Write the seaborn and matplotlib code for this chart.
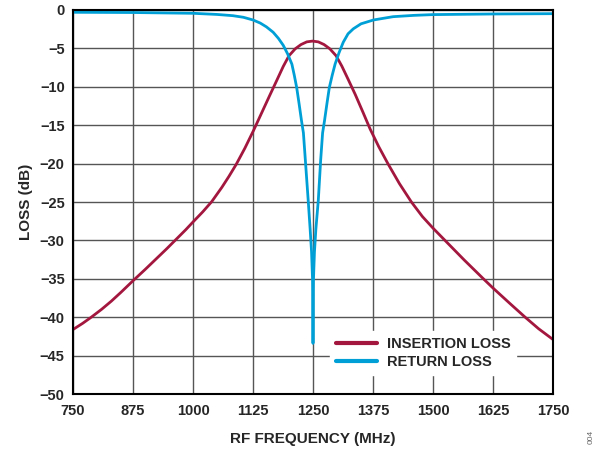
import numpy as np
import pandas as pd
import seaborn as sns
import matplotlib.pyplot as plt

# values
il_freq = [750, 770, 788, 810, 830, 850, 875, 900, 925, 945, 965, 985, 1000, 1020, 1039,
           1060, 1075, 1090, 1108, 1126, 1143, 1160, 1175, 1188, 1200, 1213, 1225, 1237,
           1249, 1261, 1273, 1285, 1298, 1310, 1323, 1338, 1354, 1369, 1387, 1406, 1430,
           1455, 1478, 1500, 1525, 1565, 1605, 1625, 1660, 1692, 1720, 1750]
il_loss = [-41.6, -40.8, -40.0, -38.95, -37.9, -36.75, -35.25, -33.8, -32.3, -31.1, -29.85,
           -28.6, -27.6, -26.3, -24.95, -23.1, -21.65, -20.1, -18.0, -15.7, -13.4, -11.1,
           -9.1, -7.35, -5.95, -5.05, -4.5, -4.15, -4.05, -4.15, -4.5, -5.05, -5.95, -7.3,
           -9.0, -11.0, -13.3, -15.5, -17.8, -20.0, -22.6, -25.0, -26.9, -28.4, -30.0,
           -32.55, -35.0, -36.2, -38.2, -40.0, -41.5, -42.9]

rl_freq = [750, 875, 1000, 1050, 1083, 1105, 1125, 1140, 1153, 1167, 1178, 1188, 1197,
           1206, 1211, 1216, 1221, 1226, 1230, 1234, 1240, 1244, 1247, 1249, 1250, 1251,
           1253, 1256, 1261, 1266, 1270, 1274, 1279, 1284, 1290, 1296, 1304, 1313, 1323,
           1334, 1350, 1376, 1417, 1460, 1500, 1625, 1750]
rl_loss = [-0.30, -0.33, -0.43, -0.58, -0.74, -0.95, -1.3, -1.7, -2.2, -2.9, -3.7, -4.6,
           -5.7, -7.05, -8.5, -10.1, -12.2, -14.4, -16.0, -19.5, -24.8, -28.5, -31.5, -35.0,
           -43.4, -35.0, -31.5, -28.5, -24.8, -19.5, -16.0, -14.4, -12.2, -10.1, -8.5, -7.05,
           -5.6, -4.2, -3.1, -2.45, -1.8, -1.3, -0.87, -0.7, -0.6, -0.52, -0.48]

x_ticks = [750, 875, 1000, 1125, 1250, 1375, 1500, 1625, 1750]
y_ticks = [0, -5, -10, -15, -20, -25, -30, -35, -40, -45, -50]

series_names = ["INSERTION LOSS", "RETURN LOSS"]
colors = ["#A3173F", "#00A0D6"]

data = pd.concat([
    pd.DataFrame({"freq": il_freq, "loss": il_loss, "series": series_names[0]}),
    pd.DataFrame({"freq": rl_freq, "loss": rl_loss, "series": series_names[1]}),
])

sns.set_style("white")
plt.rcParams["font.family"] = ["Liberation Sans", "DejaVu Sans"]
plt.rcParams["font.weight"] = "bold"

fig = plt.figure(figsize=(5.97, 4.5), dpi=100)
ax = fig.add_axes([0.1223, 0.1244, 0.804, 0.8534])

sns.lineplot(data=data, x="freq", y="loss", hue="series", hue_order=series_names,
             palette=colors, linewidth=2.0, sort=False, ax=ax)

ax.set_xlim(750, 1750)
ax.set_ylim(-50, 0)
ax.set_xticks(x_ticks)
ax.set_yticks(y_ticks)
ax.tick_params(labelsize=10.5, length=0)
ax.tick_params(axis="x", pad=7)
ax.tick_params(axis="y", pad=6)
for lab in ax.get_xticklabels() + ax.get_yticklabels():
    lab.set_fontweight("bold")
ax.grid(True, color="#555555", linewidth=1.0)
ax.set_axisbelow(True)
for s in ax.spines.values():
    s.set_color("black")
    s.set_linewidth(1.5)

ax.set_xlabel("RF FREQUENCY (MHz)", fontsize=11, fontweight="bold", labelpad=10)
ax.set_ylabel("LOSS (dB)", fontsize=11, fontweight="bold", labelpad=5)

leg = ax.legend(loc="lower left", bbox_to_anchor=(0.52, 0.03), frameon=True,
                fancybox=False, edgecolor="white", facecolor="white", framealpha=1,
                handlelength=2.8, handletextpad=0.7, labelspacing=0.3,
                prop={"size": 10.5, "weight": "bold"})
for h in leg.get_lines():
    h.set_linewidth(3)

fig.text(0.99, 0.03, "004", rotation=90, fontsize=6, color="#666666",
         fontweight="normal", ha="center", va="center")

fig.savefig("out.png", dpi=100)
